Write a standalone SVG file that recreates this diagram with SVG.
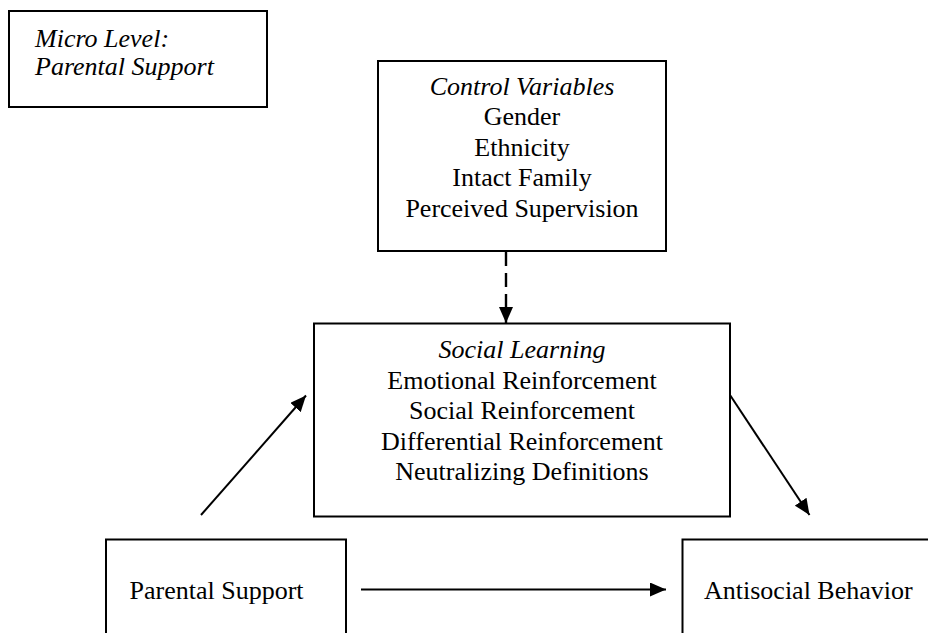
<svg xmlns="http://www.w3.org/2000/svg" width="928" height="633" viewBox="0 0 928 633">
  <style>
    .box { fill: #ffffff; stroke: #000000; stroke-width: 2; }
    .t { font-family: 'Liberation Serif', 'Times New Roman', Times, 'DejaVu Serif', serif; font-size: 26px; fill: #000000; }
    .c { text-anchor: middle; }
    .i { font-style: italic; }
    .conn { stroke: #000000; stroke-width: 2; fill: none; }
    .dash { stroke-width: 2.4; stroke-dasharray: 14 7; }
  </style>
  <defs>
    <marker id="ah" viewBox="0 0 16 14" refX="16" refY="7" markerWidth="16" markerHeight="14" markerUnits="userSpaceOnUse" orient="auto">
      <path d="M0,0 L16,7 L0,14 Z" fill="#000000"/>
    </marker>
  </defs>
  <rect width="928" height="633" fill="#ffffff"/>

  <g id="micro-level">
    <rect class="box" x="9" y="11" width="258" height="96"/>
    <text class="t i" x="35" y="46.5">Micro Level:</text>
    <text class="t i" x="35" y="75">Parental Support</text>
  </g>

  <g id="control-variables">
    <rect class="box" x="378" y="61" width="288" height="190"/>
    <text class="t i c" x="522" y="95">Control Variables</text>
    <text class="t c" x="522" y="125">Gender</text>
    <text class="t c" x="522" y="155.5">Ethnicity</text>
    <text class="t c" x="522" y="186">Intact Family</text>
    <text class="t c" x="522" y="216.5">Perceived Supervision</text>
  </g>

  <g id="social-learning">
    <rect class="box" x="314" y="323.5" width="416" height="193"/>
    <text class="t i c" x="522" y="358">Social Learning</text>
    <text class="t c" x="522" y="388.5">Emotional Reinforcement</text>
    <text class="t c" x="522" y="419">Social Reinforcement</text>
    <text class="t c" x="522" y="449.5">Differential Reinforcement</text>
    <text class="t c" x="522" y="480">Neutralizing Definitions</text>
  </g>

  <g id="parental-support">
    <rect class="box" x="106" y="539.5" width="240" height="110"/>
    <text class="t" x="129.5" y="599">Parental Support</text>
  </g>

  <g id="antisocial-behavior">
    <rect class="box" x="682.5" y="539.5" width="260" height="110"/>
    <text class="t" x="704" y="599">Antisocial Behavior</text>
  </g>

  <g id="connectors">
    <line class="conn dash" x1="506" y1="252" x2="506" y2="323" marker-end="url(#ah)"/>
    <line class="conn" x1="201" y1="515" x2="306" y2="395.5" marker-end="url(#ah)"/>
    <line class="conn" x1="730" y1="395" x2="809.5" y2="515" marker-end="url(#ah)"/>
    <line class="conn" x1="361" y1="589.5" x2="666" y2="589.5" marker-end="url(#ah)"/>
  </g>
</svg>
